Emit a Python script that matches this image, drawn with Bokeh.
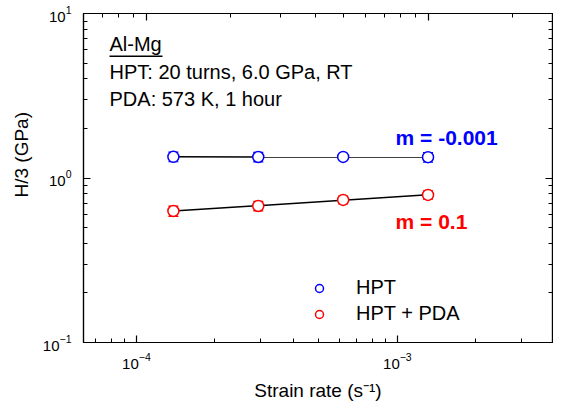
import numpy as np
from bokeh.plotting import figure
from bokeh.models import (LogAxis, Range1d, LogScale, FixedTicker, LogTickFormatter,
                          Label, Legend, LegendItem, Whisker, ColumnDataSource, TeeHead,
                          BoxAnnotation, Title)
from bokeh.embed import file_html
from bokeh.resources import INLINE

# ---- data ----
strain_rate = [1.25e-4, 2.5e-4, 5e-4, 1e-3]
h_hpt = [1.345, 1.342, 1.344, 1.339]
h_hpt_err = [0.09, 0.09, 0.05, 0.09]
h_pda = [0.630, 0.676, 0.736, 0.789]
h_pda_err = [0.045, 0.045, 0.04, 0.045]

x_major = [1e-4, 1e-3]
x_minor = [6e-5, 7e-5, 8e-5, 9e-5, 2e-4, 3e-4, 4e-4, 5e-4, 6e-4, 7e-4, 8e-4, 9e-4,
           2e-3, 3e-3, 4e-3]
y_major = [0.1, 1, 10]
y_minor = [0.2, 0.3, 0.4, 0.5, 0.6, 0.7, 0.8, 0.9, 2, 3, 4, 5, 6, 7, 8, 9]

FONT = "Liberation Sans"

p = figure(width=553, height=403, x_axis_type="log", y_axis_type="log",
           x_range=Range1d(6.0e-5, 2.763e-3), y_range=Range1d(0.1, 10),
           x_axis_location=None, toolbar_location=None, output_backend="svg",
           min_border_left=83, min_border_right=1, min_border_top=13, min_border_bottom=58)
p.grid.visible = False
p.outline_line_color = "black"
p.outline_line_width = 1.2
p.background_fill_color = "white"
p.border_fill_color = "white"

p.extra_x_ranges = {"bot": Range1d(6.27e-5, 3.93e-3)}
p.extra_x_scales = {"bot": LogScale()}


def style(ax, labels=True):
    ax.major_tick_in = 7
    ax.major_tick_out = 0
    ax.minor_tick_in = 4
    ax.minor_tick_out = 0
    ax.axis_line_color = "black"
    ax.axis_line_width = 1.2
    ax.major_tick_line_color = "black"
    ax.minor_tick_line_color = "black"
    ax.major_tick_line_width = 1.2
    ax.minor_tick_line_width = 1.0
    ax.major_label_text_font = FONT
    ax.major_label_text_color = "black"
    ax.axis_label_text_font = FONT
    ax.axis_label_text_font_style = "normal"
    ax.axis_label_text_color = "black"
    ax.axis_label_text_font_size = "19px"
    if labels:
        ax.major_label_text_font_size = "15px"
    else:
        ax.major_label_text_font_size = "1px"
        ax.major_label_text_alpha = 0
        ax.major_label_standoff = 0


bottom = LogAxis(x_range_name="bot", formatter=LogTickFormatter(),
                 axis_label="Strain rate (s⁻¹)")
style(bottom)
bottom.ticker = FixedTicker(ticks=x_major, minor_ticks=x_minor)
bottom.major_label_standoff = 10
bottom.axis_label_standoff = 8
p.add_layout(bottom, "below")

top = LogAxis()
style(top, labels=False)
top.ticker = FixedTicker(ticks=x_major, minor_ticks=x_minor)
p.add_layout(top, "above")

left = p.yaxis[0]
style(left)
left.ticker = FixedTicker(ticks=y_major, minor_ticks=y_minor)
left.formatter = LogTickFormatter()
left.major_label_standoff = 12

right = LogAxis()
style(right, labels=False)
right.ticker = FixedTicker(ticks=y_major, minor_ticks=y_minor)
p.add_layout(right, "right")

# y-axis title, placed a little above the frame centre as in the original
p.add_layout(Title(text="H/3 (GPa)", align="left", offset=145, standoff=15,
                   text_font=FONT, text_font_size="19px", text_font_style="normal",
                   text_color="black"), "left")

# ---- fit lines ----
lx = np.log10(strain_rate)
xf = [strain_rate[0], strain_rate[-1]]
for ys in (h_hpt, h_pda):
    m, c = np.polyfit(lx, np.log10(ys), 1)
    yf = [10 ** (c + m * np.log10(v)) for v in xf]
    p.line(xf, yf, line_color="black", line_width=1.5)

# ---- error bars ----
for ys, es, col in ((h_hpt, h_hpt_err, "blue"), (h_pda, h_pda_err, "red")):
    src = ColumnDataSource(dict(base=strain_rate,
                                upper=[a + b for a, b in zip(ys, es)],
                                lower=[a - b for a, b in zip(ys, es)]))
    w = Whisker(source=src, base="base", upper="upper", lower="lower",
                dimension="height", line_color=col, line_width=1.2,
                upper_head=TeeHead(size=10, line_color=col, line_width=1.2),
                lower_head=TeeHead(size=10, line_color=col, line_width=1.2))
    p.add_layout(w)

r1 = p.scatter(strain_rate, h_hpt, marker="circle", size=11, line_color="blue",
               fill_color="white", line_width=1.5)
r2 = p.scatter(strain_rate, h_pda, marker="circle", size=11, line_color="red",
               fill_color="white", line_width=1.5)

legend = Legend(items=[LegendItem(label="HPT", renderers=[r1]),
                       LegendItem(label="HPT + PDA", renderers=[r2])],
                location=(226, 17), padding=0, margin=0, spacing=3,
                glyph_width=20, glyph_height=20, label_standoff=27,
                label_text_font=FONT, label_text_font_size="20px",
                label_text_color="black",
                border_line_alpha=0, background_fill_alpha=0)
p.add_layout(legend)

# ---- annotations ----
def lab(x, y, text, size="20px", color="black", style="normal"):
    p.add_layout(Label(x=x, y=y, text=text, text_font=FONT, text_font_size=size,
                       text_color=color, text_font_style=style,
                       text_baseline="alphabetic", text_align="left"))

lab(7.42e-5, 6.55, "Al-Mg")
lab(7.42e-5, 4.44, "HPT: 20 turns, 6.0 GPa, RT")
lab(7.42e-5, 3.01, "PDA: 573 K, 1 hour")
p.add_layout(BoxAnnotation(left=7.42e-5, right=1.144e-4, bottom=5.44, top=5.56,
                           fill_color="black", fill_alpha=1, line_alpha=0))
lab(7.67e-4, 1.754, "m = -0.001", size="21px", color="blue", style="bold")
lab(7.67e-4, 0.547, "m = 0.1", size="21px", color="red", style="bold")

open("out.html", "w").write(file_html(p, INLINE))
